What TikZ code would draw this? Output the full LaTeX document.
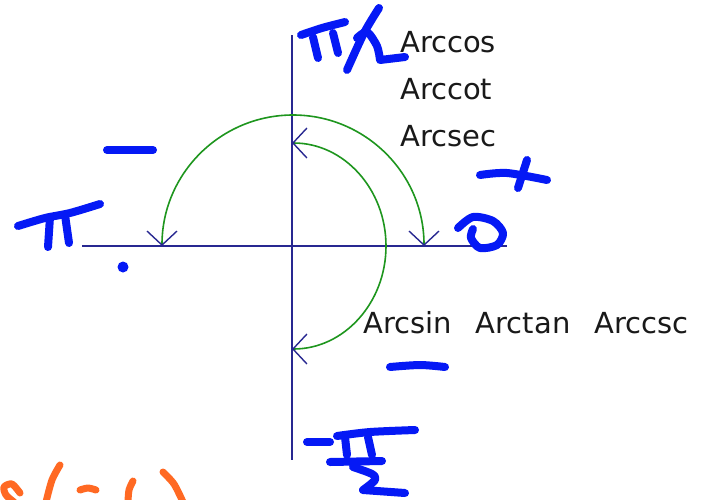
\documentclass[tikz,border=0pt]{standalone}
\usepackage{fontspec}
\newfontfamily\labfont{DejaVu Sans}
\usetikzlibrary{arrows.meta}
\definecolor{axiscol}{RGB}{40,40,145}
\definecolor{arccol}{RGB}{30,150,30}
\definecolor{ink}{RGB}{5,25,245}
\definecolor{orangeink}{RGB}{255,105,35}
\definecolor{txt}{RGB}{25,25,25}
\tikzset{
  axis/.style={draw=axiscol, line width=2.2pt},
  arcline/.style={draw=arccol, line width=1.6pt},
  tipbarb/.tip={Straight Barb[length=14pt,width=30pt,color=axiscol,line width=1.4pt]},
  pen/.style={draw=ink, line width=8pt, line cap=round, line join=round},
  opens/.style={draw=orangeink, line width=7pt, line cap=round, line join=round},
  lab/.style={font=\labfont\fontsize{29}{32}\selectfont, text=txt, inner sep=0pt, anchor=base west}
}
\begin{document}
\begin{tikzpicture}[x=1pt,y=-1pt]
\useasboundingbox[fill=white] (0,0) rectangle (704,499);
% axes
\coordinate (vtop) at (292,35);
\coordinate (vbot) at (292,460);
\coordinate (hl) at (82,246);
\coordinate (hr) at (507,246);
\draw[axis] (vtop) -- (vbot);
\draw[axis] (hl) -- (hr);
% outer arc (pi <- pi/2 -> 0)
\coordinate (oL) at (162,246);
\draw[arcline, {tipbarb}-{tipbarb}] (oL) arc (180:360:131);
% inner arc (pi/2 -> -pi/2)
\coordinate (iT) at (292,143);
\draw[arcline, {tipbarb}-{tipbarb}] (iT) arc (-90:90:94 and 103);
% labels
\node[lab] (t1) at (400,52) {Arccos};
\node[lab] (t2) at (400,99) {Arccot};
\node[lab] (t3) at (400,146) {Arcsec};
\node[lab] (t4) at (363,333) {Arcsin\hskip 24pt Arctan\hskip 24pt Arccsc};
% handwritten pi/2
\draw[pen] plot[smooth] coordinates {(301,35) (322,28) (345,22)};
\draw[pen] (313,37) -- (318,58);
\draw[pen] (333,33) -- (338,53);
\draw[pen] plot[smooth] coordinates {(379,8) (364,33) (347,70)};
\draw[pen] plot[smooth] coordinates {(357,38) (367,32) (377,46) (380,60)} -- (405,57);
% left minus, pi, dot
\draw[pen] (107,150) -- (153,150);
\draw[pen] plot[smooth] coordinates {(18,226) (45,218) (70,213) (100,204)};
\draw[pen] (50,217) -- (48,247);
\draw[pen] (65,215) -- (69,243);
\fill[ink] (123,267) circle (5.5);
% plus and zero
\draw[pen] plot[smooth] coordinates {(480,175) (507,173) (547,180)};
\draw[pen] (527,160) -- (518,188);
\draw[pen] plot[smooth] coordinates {(458,228) (473,217) (493,221) (503,233) (497,245) (480,248) (471,238) (473,229)};
% lower minus
\draw[pen] plot[smooth] coordinates {(390,367) (420,365) (445,367)};
% -pi/2
\draw[pen] (307,442) -- (330,442);
\draw[pen] plot[smooth] coordinates {(337,436) (370,432) (415,430)};
\draw[pen] (345,437) -- (347,455);
\draw[pen] (368,437) -- (372,455);
\draw[pen] (330,462) -- (382,461);
\draw[pen] plot[smooth] coordinates {(353,467) (372,474) (375,480) (363,490)} -- (405,493);
% orange partial text at bottom
\draw[opens] plot[smooth] coordinates {(20,493) (12,484) (4,487) (6,495) (14,502)};
\draw[opens] plot[smooth] coordinates {(60,465) (52,480) (46,502)};
\draw[opens] plot[smooth] coordinates {(80,490) (88,488) (96,490)};
\draw[opens] plot[smooth] coordinates {(133,481) (129,490) (128,502)};
\draw[opens] plot[smooth] coordinates {(163,472) (174,484) (183,502)};
\end{tikzpicture}
\end{document}
